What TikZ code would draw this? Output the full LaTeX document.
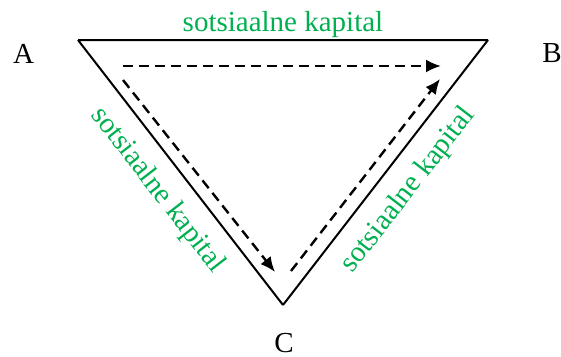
\documentclass[tikz,border=0pt]{standalone}
\usepackage{fontspec}
\setmainfont{Liberation Serif}
\usepackage{tikz}
\usetikzlibrary{
  arrows.meta,
  calc
}
\usepackage{xcolor}
\definecolor{kapitalgreen}{RGB}{0,176,80}

\begin{document}
\begin{tikzpicture}[x = 1pt, y = -1pt]
  \tikzset{>={Latex[length=15pt, width=13pt]}}
  \tikzset{
    kapital/.style = {text = kapitalgreen, font = \fontsize{29}{30}\selectfont, inner sep = 1pt},
    corner/.style = {font = \fontsize{29}{30}\selectfont, inner sep = 0pt},
    flow/.style = {->, line width = 2.4pt, dash pattern = on 10pt off 6pt}
  }

  \useasboundingbox (0,0) rectangle (561,356);

  \coordinate (A) at (78,40);
  \coordinate (B) at (488,40);
  \coordinate (C) at (283,305);

  \draw[line width = 2pt, line join = miter]
    (A) -- (B) node[midway, above, kapital] (topkap) {sotsiaalne kapital}
    (A) -- (C) node[midway, below, sloped, kapital, yshift = -14pt] (leftkap) {sotsiaalne kapital}
    (C) -- (B) node[midway, below, sloped, kapital, yshift = -14pt] (rightkap) {sotsiaalne kapital}
    (A) -- cycle;

  \node[corner] (labelA) at (23.5,53.5) {A};
  \node[corner] (labelB) at (552,53.5) {B};
  \node[corner] (labelC) at (284,343) {C};

  \coordinate (startAB) at (123,66);
  \coordinate (endAB) at (441,66);
  \coordinate (startAC) at (123,80);
  \coordinate (endAC) at (275,272);
  \coordinate (startCB) at (291,271);
  \coordinate (endCB) at (440,79);

  \draw[flow] (startAB) -- (endAB);
  \draw[flow] (startAC) -- (endAC);
  \draw[flow] (startCB) -- (endCB);
\end{tikzpicture}
\end{document}
